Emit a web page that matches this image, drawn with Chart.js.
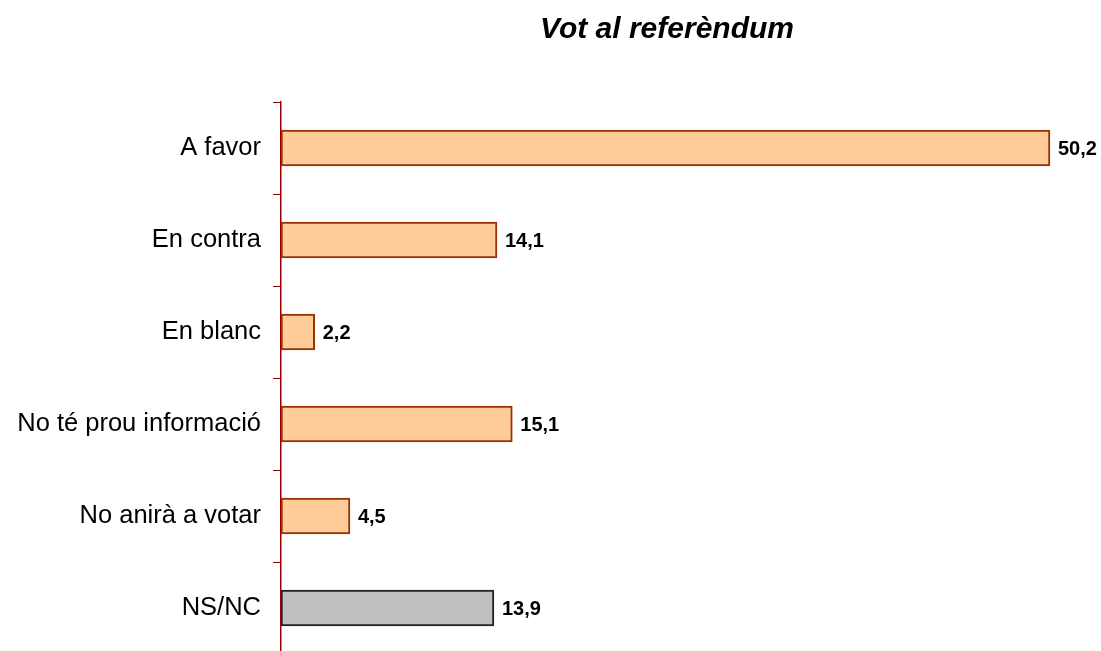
<!DOCTYPE html>
<html>
<head>
<meta charset="utf-8">
<script src="https://cdn.jsdelivr.net/npm/chart.js@4.4.0/dist/chart.umd.min.js"></script>
<style>
  html, body { margin: 0; padding: 0; background: #fff; overflow: hidden; }
  #wrap { width: 1101px; height: 654px; }
</style>
</head>
<body>
<div id="wrap"><canvas id="chart"></canvas></div>
<script>
// Vot al referèndum (%)
const categories = ['A favor', 'En contra', 'En blanc', 'No té prou informació', 'No anirà a votar', 'NS/NC'];
const values = [50.2, 14.1, 2.2, 15.1, 4.5, 13.9];
const fillColors = ['#FFCC99', '#FFCC99', '#FFCC99', '#FFCC99', '#FFCC99', '#C0C0C0'];
const edgeColors = ['#993300', '#993300', '#993300', '#993300', '#993300', '#222222'];

// Draw the value next to each bar, with a comma as decimal separator
const valueLabels = {
  id: 'valueLabels',
  afterDatasetsDraw(chart) {
    const ctx = chart.ctx;
    const meta = chart.getDatasetMeta(0);
    ctx.save();
    ctx.font = 'bold 20px "Liberation Sans", Arial, sans-serif';
    ctx.fillStyle = '#000';
    ctx.textAlign = 'left';
    ctx.textBaseline = 'middle';
    meta.data.forEach((bar, i) => {
      const txt = values[i].toFixed(1).replace('.', ',');
      ctx.fillText(txt, bar.x + 8, bar.y + 1);
    });
    ctx.restore();
  }
};

new Chart(document.getElementById('chart'), {
  type: 'bar',
  data: {
    labels: categories,
    datasets: [{
      data: values,
      backgroundColor: fillColors,
      borderColor: edgeColors,
      borderWidth: 2,
      borderSkipped: false,
      barThickness: 36
    }]
  },
  options: {
    indexAxis: 'y',
    responsive: true,
    maintainAspectRatio: false,
    animation: false,
    layout: { padding: { left: 0, right: 48, top: 0, bottom: 0 } },
    plugins: {
      legend: { display: false },
      tooltip: { enabled: false },
      title: {
        display: true,
        text: 'Vot al referèndum',
        fullSize: false,
        color: '#000',
        font: { family: '"Liberation Sans", Arial, sans-serif', size: 30, weight: 'bold', style: 'italic' },
        padding: { top: 12, bottom: 54 }
      }
    },
    scales: {
      x: {
        display: false,
        min: 0,
        max: 50.4
      },
      y: {
        afterFit(scale) {
          scale.width = 281;
          scale.paddingTop = 0;
          scale.paddingBottom = 0;
        },
        border: { display: true, color: '#990000', width: 1.5 },
        grid: {
          display: true,
          drawOnChartArea: false,
          offset: true,
          tickLength: 8,
          color: '#990000',
          lineWidth: 1
        },
        ticks: {
          padding: 12,
          color: '#000',
          font: { family: '"Liberation Sans", Arial, sans-serif', size: 25.5 }
        }
      }
    }
  },
  plugins: [valueLabels]
});
</script>
</body>
</html>
